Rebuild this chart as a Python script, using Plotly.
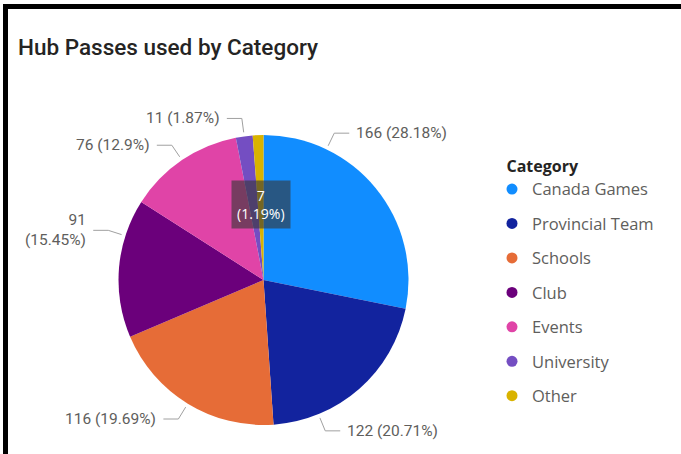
import math
import plotly.graph_objects as go

# ---- data ----
categories = ["Canada Games", "Provincial Team", "Schools", "Club", "Events", "University", "Other"]
values = [166, 122, 116, 91, 76, 11, 7]
colors = ["#118DFF", "#12239E", "#E66C37", "#6B007B", "#E044A7", "#744EC2", "#D9B300"]
# label layout tweaks (degrees shift of the leader line start, and placement)
label_angle_nudge = [-25, 19, 0, 13, 0, 0, 0]
label_placement = ["outside", "outside", "outside", "outside", "outside", "outside", "inside"]

# ---- layout constants (pixels) ----
W, H = 681, 454
cx, cy, R = 263.5, 280.0, 145.0
LABEL_FONT = "Roboto, DejaVu Sans, sans-serif"
LEGEND_FONT = "Open Sans, Noto Sans, sans-serif"
GRAY = "#605E5C"


def px(x):
    return x / W


def py(y):
    return 1 - y / H


def pt(theta_deg, r):
    t = math.radians(theta_deg)
    return cx + r * math.sin(t), cy - r * math.cos(t)


def fmt_pct(p):
    s = f"{p:.2f}".rstrip("0").rstrip(".")
    return s + "%"


fig = go.Figure()
fig.add_trace(go.Pie(
    labels=categories,
    values=values,
    marker=dict(colors=colors, line=dict(width=0)),
    sort=False,
    direction="clockwise",
    rotation=0,
    textinfo="none",
    hoverinfo="label+value+percent",
    showlegend=False,
    domain=dict(x=[px(cx - R), px(cx + R)], y=[py(cy + R), py(cy - R)]),
))

# legend entries (circle markers)
for i, (c, col) in enumerate(zip(categories, colors)):
    fig.add_trace(go.Scatter(
        x=[None], y=[None], mode="markers", name=c,
        marker=dict(color=col, size=11, symbol="circle"),
        legendgroup=f"g{i}", showlegend=True, hoverinfo="skip",
    ))

# ---- data labels with leader lines ----
total = sum(values)
shapes = []
annotations = []
cum = 0.0
for i, v in enumerate(values):
    a0 = cum / total * 360
    cum += v
    a1 = cum / total * 360
    mid = (a0 + a1) / 2
    pct = fmt_pct(v / total * 100)
    if label_placement[i] == "inside":
        x, y = pt(mid, R * 0.52)
        annotations.append(dict(
            x=px(x), y=py(y), xref="paper", yref="paper",
            text=f"{v}<br>({pct})", showarrow=False,
            font=dict(family=LEGEND_FONT, size=14, color="white"),
            bgcolor="rgba(55,55,55,0.62)", borderpad=5, align="center",
            xanchor="center", yanchor="middle",
        ))
        continue
    th = mid + label_angle_nudge[i]
    x0, y0 = pt(th, R + 4)
    x1, y1 = pt(th, R + 18)
    right = math.sin(math.radians(th)) >= 0
    x2 = x1 + 15 if right else x1 - 15
    shapes.append(dict(
        type="path", xref="paper", yref="paper",
        path=f"M {px(x0)} {py(y0)} L {px(x1)} {py(y1)} L {px(x2)} {py(y1)}",
        line=dict(color="#A0A0A0", width=1),
    ))
    text = f"{v} ({pct})"
    tx = x2 + 5 if right else x2 - 5
    est_w = len(text) * 8.2
    if not right and tx - est_w < 15:
        text = f"{v}<br>({pct})"
    annotations.append(dict(
        x=px(tx), y=py(y1), xref="paper", yref="paper",
        text=text, showarrow=False,
        font=dict(family=LABEL_FONT, size=15.5, color=GRAY),
        xanchor="left" if right else "right", yanchor="middle",
        align="left" if right else "right",
    ))

# frame lines (top and left)
shapes.append(dict(type="rect", xref="paper", yref="paper",
                   x0=px(3), x1=px(681), y0=py(9), y1=py(4),
                   fillcolor="black", line=dict(width=0)))
shapes.append(dict(type="rect", xref="paper", yref="paper",
                   x0=px(3), x1=px(8), y0=py(454), y1=py(4),
                   fillcolor="black", line=dict(width=0)))

fig.update_layout(
    width=W, height=H,
    margin=dict(l=0, r=0, t=0, b=0),
    paper_bgcolor="white", plot_bgcolor="white",
    title=dict(
        text="Hub Passes used by Category",
        x=px(18), xanchor="left", xref="paper",
        y=py(47), yanchor="middle", yref="paper",
        font=dict(family=LABEL_FONT, size=22.5, color="#252423", weight=500),
    ),
    xaxis=dict(visible=False), yaxis=dict(visible=False),
    showlegend=True,
    legend=dict(
        x=px(492), xanchor="left", y=py(151), yanchor="top",
        title=dict(text="&nbsp;&nbsp;&nbsp;<b>Category</b>",
                   font=dict(family=LEGEND_FONT, size=16, color="#252423")),
        font=dict(family=LEGEND_FONT, size=16.5, color=GRAY),
        tracegroupgap=10, itemwidth=30,
        bgcolor="rgba(0,0,0,0)",
    ),
    shapes=shapes,
    annotations=annotations,
)

fig.write_html("out.html")
